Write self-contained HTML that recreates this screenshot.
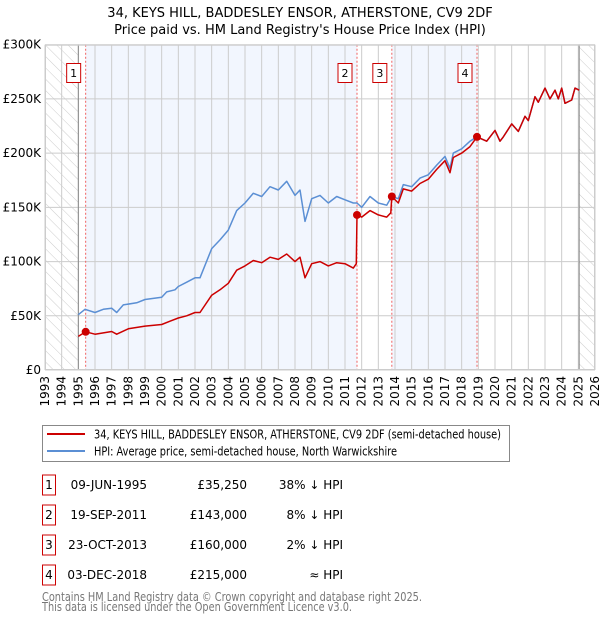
<!DOCTYPE html>
<html><head><meta charset="utf-8"><style>
body{margin:0;background:#fff;}
svg text{font-family:"DejaVu Sans","Liberation Sans",sans-serif;}
</style></head><body>
<svg width="600" height="620" viewBox="0 0 600 620" xmlns="http://www.w3.org/2000/svg">
<defs>
<pattern id="hatch" width="8" height="8" patternUnits="userSpaceOnUse" patternTransform="rotate(-45)">
<line x1="0" y1="0" x2="0" y2="8" stroke="#ccc" stroke-width="1"/>
</pattern>
</defs>
<text x="300" y="17" text-anchor="middle" font-size="13">34, KEYS HILL, BADDESLEY ENSOR, ATHERSTONE, CV9 2DF</text>
<text x="300" y="34" text-anchor="middle" font-size="13">Price paid vs. HM Land Registry's House Price Index (HPI)</text>
<g id="plot"></g>
<g id="legend">
<rect x="42.5" y="425.5" width="467" height="36" fill="#fff" stroke="#888"/>
<line x1="47" y1="434" x2="85" y2="434" stroke="#cc0000" stroke-width="2"/>
<text x="94" y="438.5" font-size="12" textLength="407" lengthAdjust="spacingAndGlyphs">34, KEYS HILL, BADDESLEY ENSOR, ATHERSTONE, CV9 2DF (semi-detached house)</text>
<line x1="47" y1="451" x2="85" y2="451" stroke="#5b8fd4" stroke-width="2"/>
<text x="94" y="455.5" font-size="12" textLength="303" lengthAdjust="spacingAndGlyphs">HPI: Average price, semi-detached house, North Warwickshire</text>
</g>
<g id="table" font-size="12"></g>
<text x="42" y="601" font-size="12" fill="#777" textLength="380" lengthAdjust="spacingAndGlyphs">Contains HM Land Registry data © Crown copyright and database right 2025.</text>
<text x="42" y="611" font-size="12" fill="#777" textLength="310" lengthAdjust="spacingAndGlyphs">This data is licensed under the Open Government Licence v3.0.</text>
</svg>
<script>
const hpiYears=[1995.0,1995.4,1996,1996.5,1997,1997.3,1997.7,1998.5,1999,2000,2000.3,2000.8,2001,2001.5,2002,2002.3,2003,2003.5,2004,2004.5,2005,2005.5,2006,2006.5,2007,2007.5,2008,2008.3,2008.6,2009,2009.5,2010,2010.5,2011,2011.5,2011.72,2012,2012.5,2013,2013.5,2013.8,2014.2,2014.5,2015,2015.5,2016,2016.5,2017,2017.3,2017.5,2018,2018.5,2018.92,2019.5,2020,2020.3,2020.5,2021,2021.4,2021.8,2022,2022.4,2022.6,2023,2023.3,2023.6,2023.8,2024,2024.2,2024.6,2024.8,2025.05];
const hpiValues=[51000,56000,53000,56000,57000,53000,60000,62000,65000,67000,72000,74000,77000,81000,85000,85000,112000,120000,129000,147000,154000,163000,160000,169000,166000,174000,161000,166000,137000,158000,161000,154000,160000,157000,154000,154000,150000,160000,154000,152000,160000,158000,171000,169000,177000,180000,189000,197000,186000,200000,204000,211000,215000,211000,221000,211000,215000,227000,220000,234000,230000,252000,247000,260000,250000,258000,250000,260000,246000,249000,260000,258000];
const priceYears=[1995.0,1995.44,1996,1997,1997.3,1998,1999,2000,2000.5,2001,2001.5,2002,2002.3,2003,2003.5,2004,2004.5,2005,2005.5,2006,2006.5,2007,2007.5,2008,2008.3,2008.6,2009,2009.5,2010,2010.5,2011,2011.5,2011.68,2011.72,2012,2012.5,2013,2013.5,2013.75,2013.81,2014.2,2014.5,2015,2015.5,2016,2016.5,2017,2017.3,2017.5,2018,2018.5,2018.92,2019.5,2020,2020.3,2020.5,2021,2021.4,2021.8,2022,2022.4,2022.6,2023,2023.3,2023.6,2023.8,2024,2024.2,2024.6,2024.8,2025.05];
const priceValues=[31000,35250,33000,35500,33000,38000,40500,42000,45000,48000,50000,53000,53000,69000,74000,80000,92000,96000,101000,99000,104000,102000,107000,100000,104000,85000,98000,100000,96000,99000,98000,94000,98000,143000,141000,147000,143000,141000,145000,160000,154000,167000,165000,172000,176000,185000,193000,182000,196000,200000,206000,215000,211000,221000,211000,215000,227000,220000,234000,230000,252000,247000,260000,250000,258000,250000,260000,246000,249000,260000,258000];
const saleLabels=["1","2","3","4"];
const saleYears=[1995.44,2011.72,2013.81,2018.92];
const salePrices=[35250,143000,160000,215000];
const saleDates=["09-JUN-1995","19-SEP-2011","23-OCT-2013","03-DEC-2018"];
const salePriceText=["£35,250","£143,000","£160,000","£215,000"];
const saleHpiText=["38% ↓ HPI","8% ↓ HPI","2% ↓ HPI","≈ HPI"];
const yTicks=[0,50000,100000,150000,200000,250000,300000];
const yTickLabels=["£0","£50K","£100K","£150K","£200K","£250K","£300K"];
const xStart=1993,xEnd=2026,dataStart=1995,dataEnd=2025.05;

const L=45,R=595,T=44.7,B=370;
const xs=y=>L+(y-xStart)/(xEnd-xStart)*(R-L);
const ys=v=>B-v/300000*(B-T);
const NS="http://www.w3.org/2000/svg";
const plot=document.getElementById('plot');
function mk(tag,attrs,parent){const e=document.createElementNS(NS,tag);for(const k in attrs)e.setAttribute(k,attrs[k]);(parent||plot).appendChild(e);return e;}

let e;
e=mk('rect',{x:L,y:T,width:R-L,height:B-T,fill:'#fff'});


const bandEdges=[saleYears[0],saleYears[1],saleYears[2],saleYears[3]];
e=mk('rect',{x:xs(bandEdges[0]),y:T,width:xs(bandEdges[1])-xs(bandEdges[0]),height:B-T,fill:'#f2f6fe'});


e=mk('rect',{x:xs(bandEdges[2]),y:T,width:xs(bandEdges[3])-xs(bandEdges[2]),height:B-T,fill:'#f2f6fe'});


e=mk('rect',{x:L,y:T,width:xs(dataStart)-L,height:B-T,fill:'url(#hatch)'});


e=mk('rect',{x:xs(dataEnd),y:T,width:R-xs(dataEnd),height:B-T,fill:'url(#hatch)'});


for(let yr=xStart;yr<=xEnd;yr++){
  e=mk('line',{x1:xs(yr),x2:xs(yr),y1:T,y2:B,stroke:'#ccc','stroke-width':1});
  
  
  e=mk('text',{x:0,y:0,'font-size':12,'text-anchor':'end',transform:`translate(${xs(yr)+4},${B+6}) rotate(-90)`});
  e.textContent=yr;
  
  
}
yTicks.forEach((v,i)=>{
  e=mk('line',{x1:L,x2:R,y1:ys(v),y2:ys(v),stroke:'#ccc','stroke-width':1});
  
  
  e=mk('text',{x:L-4,y:ys(v)+4,'font-size':12,'text-anchor':'end'});
  e.textContent=yTickLabels[i];
  
  
});
e=mk('line',{x1:xs(dataStart),x2:xs(dataStart),y1:T,y2:B,stroke:'#888','stroke-width':1});


e=mk('line',{x1:xs(dataEnd),x2:xs(dataEnd),y1:T,y2:B,stroke:'#888','stroke-width':1});


saleYears.forEach((yr,i)=>{
  e=mk('line',{x1:xs(yr),x2:xs(yr),y1:T,y2:B,stroke:'#f06060','stroke-width':1,'stroke-dasharray':'2,2'});
  
  
  e=mk('rect',{x:xs(yr)-19,y:63.5,width:14,height:19,fill:'#fff',stroke:'#cc0000'});
  
  
  e=mk('text',{x:xs(yr)-12,y:77,'font-size':11,'text-anchor':'middle'});
  e.textContent=saleLabels[i];
  
  
});
mk('rect',{x:L+0.5,y:T+0.5,width:R-L-1,height:B-T-1,fill:'none',stroke:'#ccc'});
const pts=(xa,va)=>xa.map((x,i)=>xs(x).toFixed(1)+','+ys(va[i]).toFixed(1)).join(' ');
e=mk('polyline',{points:pts(hpiYears,hpiValues),fill:'none',stroke:'#5b8fd4','stroke-width':1.5,'stroke-linejoin':'round'});


e=mk('polyline',{points:pts(priceYears,priceValues),fill:'none',stroke:'#cc0000','stroke-width':1.5,'stroke-linejoin':'round'});


saleYears.forEach((yr,i)=>{
  e=mk('circle',{cx:xs(yr),cy:ys(salePrices[i]),r:4,fill:'#cc0000'});
  
  
});
const tbl=document.getElementById('table');
saleLabels.forEach((lab,i)=>{
  const cy=485+i*30;
  e=mk('rect',{x:42.5,y:cy-10,width:13,height:20,fill:'#fff',stroke:'#cc0000'},tbl);
  
  
  e=mk('text',{x:49,y:cy+4,'text-anchor':'middle'},tbl);e.textContent=lab;
  
  
  e=mk('text',{x:147,y:cy+4,'text-anchor':'end'},tbl);e.textContent=saleDates[i];
  
  
  e=mk('text',{x:247,y:cy+4,'text-anchor':'end'},tbl);e.textContent=salePriceText[i];
  
  
  e=mk('text',{x:343,y:cy+4,'text-anchor':'end'},tbl);e.textContent=saleHpiText[i];
  
  
});
</script>
</body></html>
